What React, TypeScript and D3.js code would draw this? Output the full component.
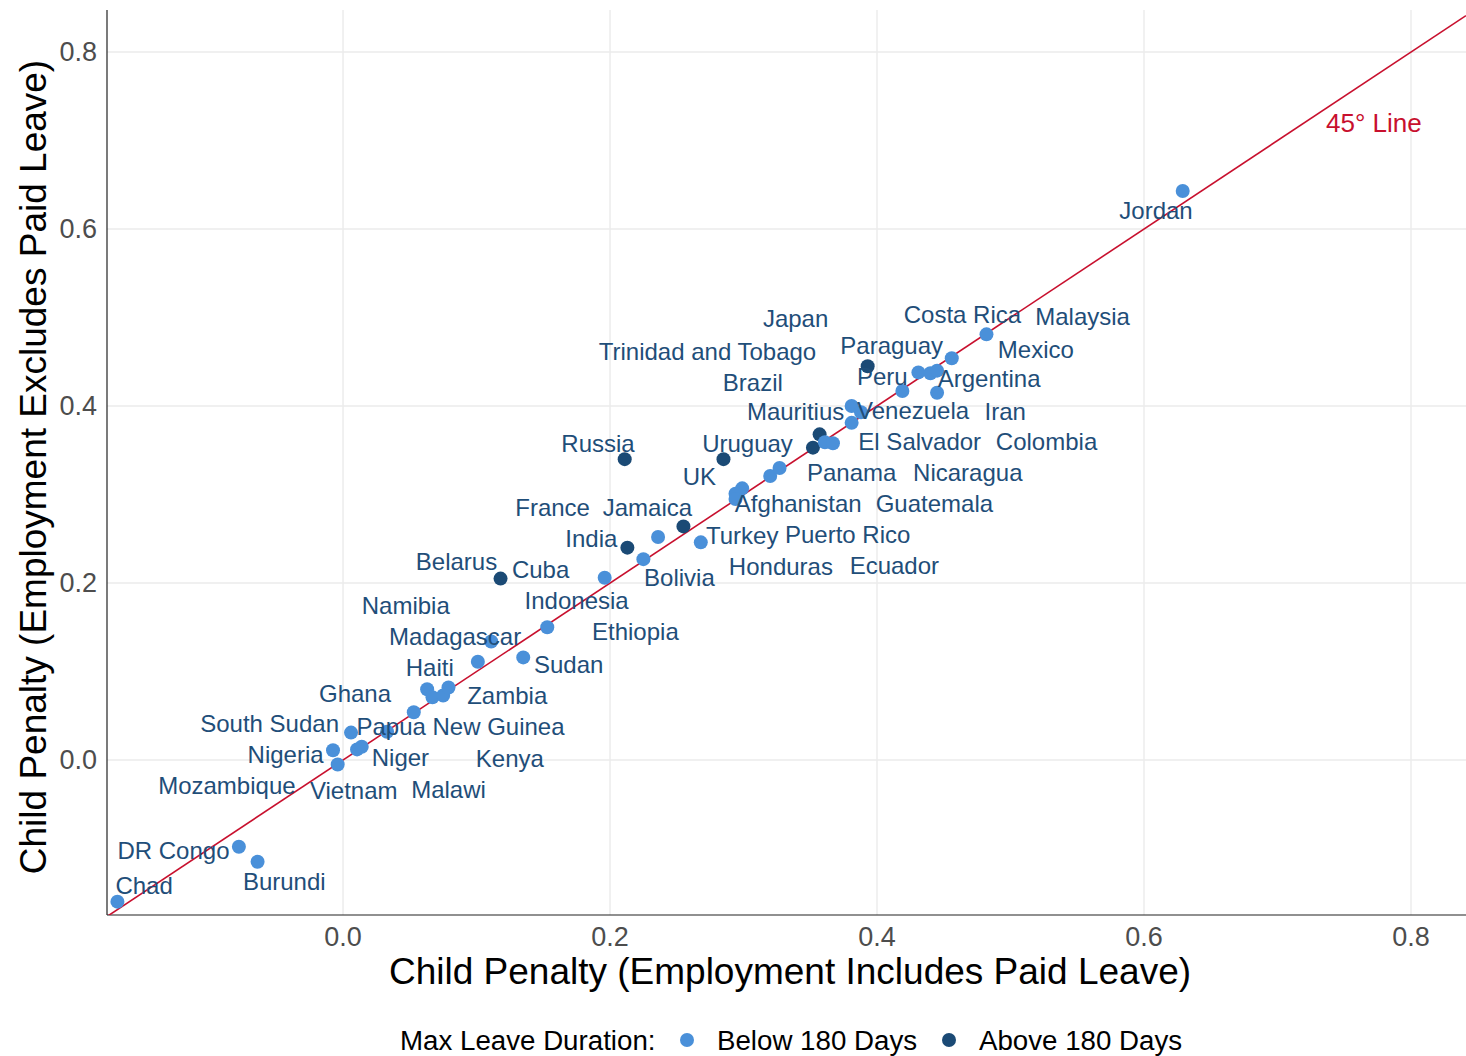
import React from "react";
import * as d3 from "d3";

// ---- data ----
// points (x = child penalty, employment includes paid leave; y = excludes paid leave)
const pointX = [-0.169,-0.078,-0.064,-0.0075,-0.004,0.006,0.0105,0.014,0.033,0.053,0.063,0.067,0.075,0.079,0.101,0.111,0.135,0.153,0.118,0.196,0.225,0.213,0.236,0.255,0.268,0.211,0.285,0.299,0.294,0.294,0.320,0.327,0.352,0.357,0.361,0.367,0.381,0.381,0.388,0.393,0.419,0.431,0.440,0.445,0.445,0.456,0.482,0.629];
const pointY = [-0.160,-0.098,-0.115,0.011,-0.005,0.031,0.012,0.015,0.032,0.054,0.080,0.071,0.073,0.082,0.111,0.134,0.116,0.150,0.205,0.206,0.227,0.240,0.252,0.264,0.246,0.340,0.340,0.307,0.301,0.295,0.321,0.330,0.353,0.368,0.359,0.358,0.381,0.400,0.393,0.445,0.417,0.438,0.437,0.440,0.415,0.454,0.481,0.643];
const pointGroup = ["B","B","B","B","B","B","B","B","B","B","B","B","B","B","B","B","B","B","A","B","B","A","B","A","B","A","A","B","B","B","B","B","A","A","B","B","B","B","B","A","B","B","B","B","B","B","B","B"];

// country labels (repelled positions, in data units)
const labelText = ["Jordan","Japan","Costa Rica","Malaysia","Trinidad and Tobago","Paraguay","Mexico","Brazil","Peru","Argentina","Mauritius","Venezuela","Iran","Russia","Uruguay","El Salvador","Colombia","UK","Panama","Nicaragua","France","Jamaica","Afghanistan","Guatemala","India","Turkey","Puerto Rico","Belarus","Cuba","Bolivia","Honduras","Ecuador","Namibia","Indonesia","Madagascar","Ethiopia","Haiti","Sudan","Ghana","Zambia","South Sudan","Papua New Guinea","Nigeria","Niger","Kenya","Mozambique","Vietnam","Malawi","DR Congo","Burundi","Chad"];
const labelX = [0.609,0.339,0.464,0.554,0.273,0.411,0.519,0.307,0.404,0.484,0.339,0.427,0.496,0.191,0.303,0.432,0.527,0.267,0.381,0.468,0.157,0.228,0.341,0.443,0.186,0.299,0.378,0.085,0.148,0.252,0.328,0.413,0.047,0.175,0.084,0.219,0.065,0.169,0.009,0.123,-0.055,0.088,-0.043,0.043,0.125,-0.087,0.008,0.079,-0.127,-0.044,-0.149];
const labelY = [0.621,0.499,0.503,0.501,0.462,0.468,0.464,0.427,0.433,0.431,0.394,0.395,0.394,0.358,0.358,0.360,0.360,0.320,0.325,0.325,0.285,0.285,0.290,0.290,0.250,0.254,0.255,0.224,0.215,0.206,0.219,0.220,0.175,0.180,0.140,0.145,0.105,0.108,0.075,0.073,0.041,0.038,0.006,0.003,0.002,-0.029,-0.034,-0.033,-0.102,-0.137,-0.142];

const ticks = [0.0, 0.2, 0.4, 0.6, 0.8];
const groups = ["B", "A"];
const groupNames = ["Below 180 Days", "Above 180 Days"];
const groupColors = ["#4A90D9", "#1B4A75"];

const W = 1466, H = 1056;
const M = { left: 107, right: 1466, top: 10, bottom: 915 };
const FONT = "'Liberation Sans', Arial, Helvetica, sans-serif";
const LINE_COL = "#C8102E";
const TEXT_COL = "#1F4E79";

export default function App() {
  const x = d3.scaleLinear().domain([-0.1768, 0.8412]).range([M.left, M.right]);
  const y = d3.scaleLinear().domain([-0.1751, 0.8475]).range([M.bottom, M.top]);
  const color = d3.scaleOrdinal<string, string>().domain(groups).range(groupColors);
  const diag = d3.line<number>().x((d) => x(d)).y((d) => y(d));
  const diagData = [-0.1768, 0.8412];

  return (
    <svg width={W} height={H} style={{ position: "absolute", left: 0, top: 0, background: "#fff" }} fontFamily={FONT}>
      <defs>
        <clipPath id="panel">
          <rect x={M.left} y={M.top} width={M.right - M.left} height={M.bottom - M.top} />
        </clipPath>
      </defs>
      {ticks.map((t) => (
        <line key={"gx" + t} x1={x(t)} x2={x(t)} y1={M.top} y2={M.bottom} stroke="#EBEBEB" strokeWidth={1.4} />
      ))}
      {ticks.map((t) => (
        <line key={"gy" + t} x1={M.left} x2={M.right} y1={y(t)} y2={y(t)} stroke="#EBEBEB" strokeWidth={1.4} />
      ))}
      <line x1={M.left} x2={M.left} y1={M.top} y2={M.bottom} stroke="#222" strokeWidth={1.2} />
      <line x1={M.left} x2={M.right} y1={M.bottom} y2={M.bottom} stroke="#222" strokeWidth={1.2} />
      {ticks.map((t) => (
        <text key={"tx" + t} x={x(t)} y={937} dy="0.35em" textAnchor="middle" fontSize={27} fill="#4D4D4D">
          {d3.format(".1f")(t)}
        </text>
      ))}
      {ticks.map((t) => (
        <text key={"ty" + t} x={97} y={y(t)} dy="0.35em" textAnchor="end" fontSize={27} fill="#4D4D4D">
          {d3.format(".1f")(t)}
        </text>
      ))}
      <g clipPath="url(#panel)">
        <path d={diag(diagData) || ""} stroke={LINE_COL} strokeWidth={1.6} fill="none" />
      </g>
      <text x={1326} y={123} dy="0.35em" fontSize={26} fill={LINE_COL}>45° Line</text>
      {pointX.map((px, i) => (
        <circle key={"p" + i} cx={x(px)} cy={y(pointY[i])} r={7} fill={color(pointGroup[i])} />
      ))}
      {labelText.map((t, i) => (
        <text key={"l" + i} x={x(labelX[i])} y={y(labelY[i])} dy="0.35em" textAnchor="middle" fontSize={24} fill={TEXT_COL}>
          {t}
        </text>
      ))}
      <text x={790} y={971} dy="0.35em" textAnchor="middle" fontSize={37} fill="#000">
        Child Penalty (Employment Includes Paid Leave)
      </text>
      <text transform={`translate(33,467) rotate(-90)`} dy="0.35em" textAnchor="middle" fontSize={37} fill="#000">
        Child Penalty (Employment Excludes Paid Leave)
      </text>
      <text x={400} y={1040} dy="0.35em" fontSize={27.7} fill="#000">Max Leave Duration:</text>
      {groups.map((g, i) => (
        <g key={"lg" + g}>
          <circle cx={i === 0 ? 687 : 949} cy={1040} r={7} fill={color(g)} />
          <text x={i === 0 ? 717 : 979} y={1040} dy="0.35em" fontSize={27.7} fill="#000">{groupNames[i]}</text>
        </g>
      ))}
    </svg>
  );
}
